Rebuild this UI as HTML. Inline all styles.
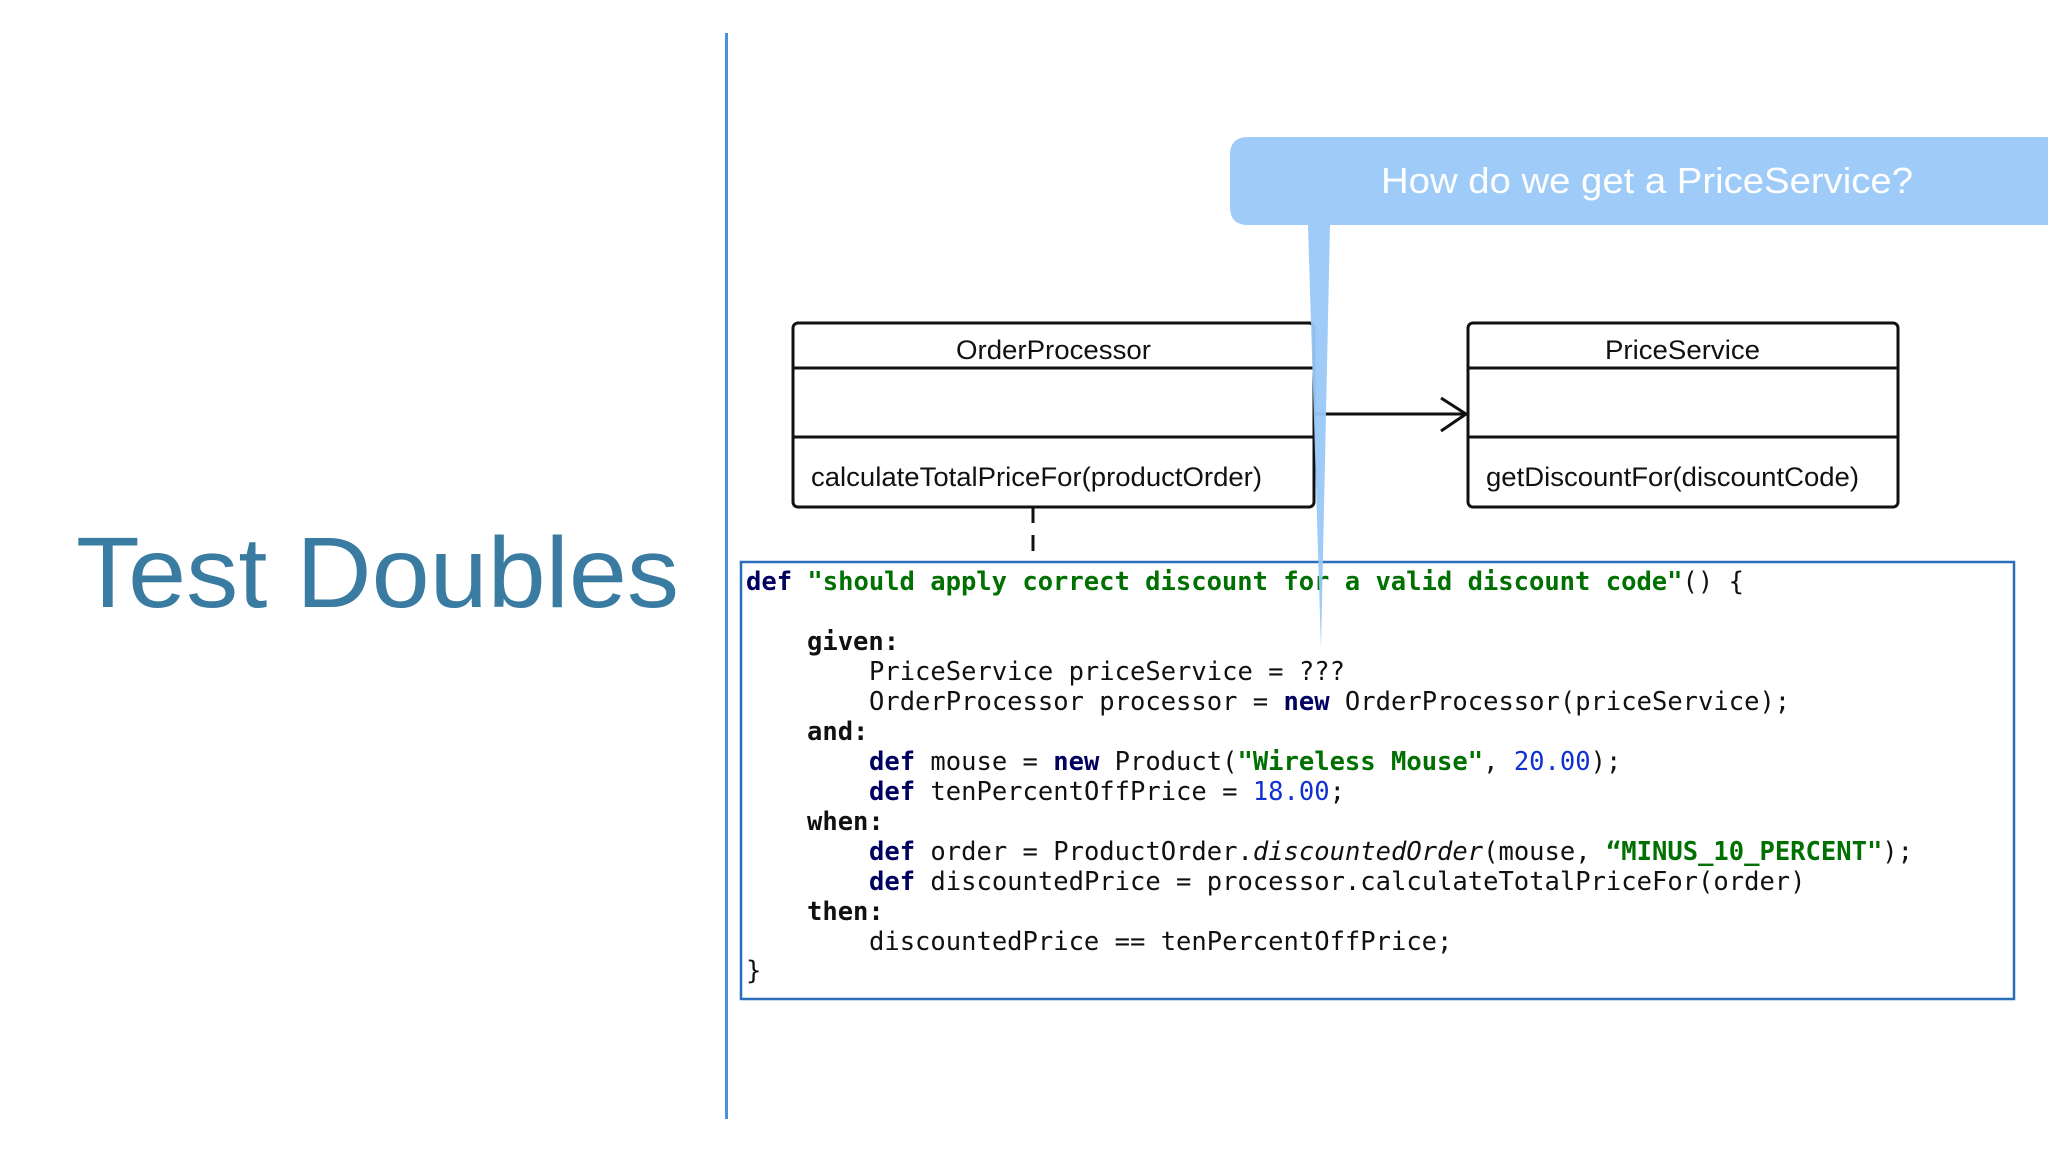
<!DOCTYPE html>
<html><head><meta charset="utf-8"><style>
html,body{margin:0;padding:0;background:#fff;}
svg{display:block}
.code text{white-space:pre}
</style></head><body>
<svg width="2048" height="1152" viewBox="0 0 2048 1152" xmlns="http://www.w3.org/2000/svg">
<rect width="2048" height="1152" fill="#fff"/>
<line x1="726.5" y1="33" x2="726.5" y2="1119" stroke="#4a90d9" stroke-width="3"/>
<text x="76" y="607" font-family="Liberation Sans, sans-serif" font-size="100" fill="#3a7ba2" textLength="603" lengthAdjust="spacingAndGlyphs">Test Doubles</text>

<!-- UML boxes -->
<g fill="none" stroke="#111" stroke-width="3">
<rect x="793" y="323" width="521" height="184" rx="5"/>
<line x1="793" y1="368" x2="1314" y2="368"/>
<line x1="793" y1="437" x2="1314" y2="437"/>
<rect x="1468" y="323" width="430" height="184" rx="5"/>
<line x1="1468" y1="368" x2="1898" y2="368"/>
<line x1="1468" y1="437" x2="1898" y2="437"/>
<line x1="1314" y1="414" x2="1466" y2="414"/>
<polyline points="1441,398 1466,414 1441,431"/>
<line x1="1033" y1="507" x2="1033" y2="562" stroke-dasharray="16,12"/>
</g>
<g font-family="Liberation Sans, sans-serif" font-size="27" fill="#111">
<text x="956" y="359" textLength="195" lengthAdjust="spacingAndGlyphs">OrderProcessor</text>
<text x="811" y="486" textLength="451" lengthAdjust="spacingAndGlyphs">calculateTotalPriceFor(productOrder)</text>
<text x="1605" y="359" textLength="155" lengthAdjust="spacingAndGlyphs">PriceService</text>
<text x="1486" y="486" textLength="373" lengthAdjust="spacingAndGlyphs">getDiscountFor(discountCode)</text>
</g>

<!-- code box -->
<rect x="741" y="562" width="1273" height="437" fill="none" stroke="#2a6ebb" stroke-width="2.5"/>
<g class="code" font-family="DejaVu Sans Mono, Liberation Mono, monospace" font-size="25.5" fill="#111">
<text x="746" y="590"><tspan fill="#000060" font-weight="bold">def</tspan> <tspan fill="#007000" font-weight="bold">"should apply correct discount for a valid discount code"</tspan>() {</text>
<text x="807" y="650" font-weight="bold">given:</text>
<text x="869" y="680">PriceService priceService = ???</text>
<text x="869" y="710">OrderProcessor processor = <tspan fill="#000060" font-weight="bold">new</tspan> OrderProcessor(priceService);</text>
<text x="807" y="740" font-weight="bold">and:</text>
<text x="869" y="770"><tspan fill="#000060" font-weight="bold">def</tspan> mouse = <tspan fill="#000060" font-weight="bold">new</tspan> Product(<tspan fill="#007000" font-weight="bold">"Wireless Mouse"</tspan>, <tspan fill="#1030d0">20.00</tspan>);</text>
<text x="869" y="800"><tspan fill="#000060" font-weight="bold">def</tspan> tenPercentOffPrice = <tspan fill="#1030d0">18.00</tspan>;</text>
<text x="807" y="830" font-weight="bold">when:</text>
<text x="869" y="860"><tspan fill="#000060" font-weight="bold">def</tspan> order = ProductOrder.<tspan font-style="italic">discountedOrder</tspan>(mouse, <tspan fill="#007000" font-weight="bold">“MINUS_10_PERCENT"</tspan>);</text>
<text x="869" y="890"><tspan fill="#000060" font-weight="bold">def</tspan> discountedPrice = processor.calculateTotalPriceFor(order)</text>
<text x="807" y="920" font-weight="bold">then:</text>
<text x="869" y="950">discountedPrice == tenPercentOffPrice;</text>
<text x="746" y="979">}</text>
</g>

<!-- callout -->
<path d="M1248,137 H2048 V225 H1330 L1321,649 L1308,225 H1248 Q1230,225 1230,207 V155 Q1230,137 1248,137 Z" fill="#99c8f7" opacity="0.95"/>
<text x="1647" y="193" text-anchor="middle" font-family="Liberation Sans, sans-serif" font-size="36" fill="#fff" textLength="532" lengthAdjust="spacingAndGlyphs">How do we get a PriceService?</text>
</svg>
</body></html>
